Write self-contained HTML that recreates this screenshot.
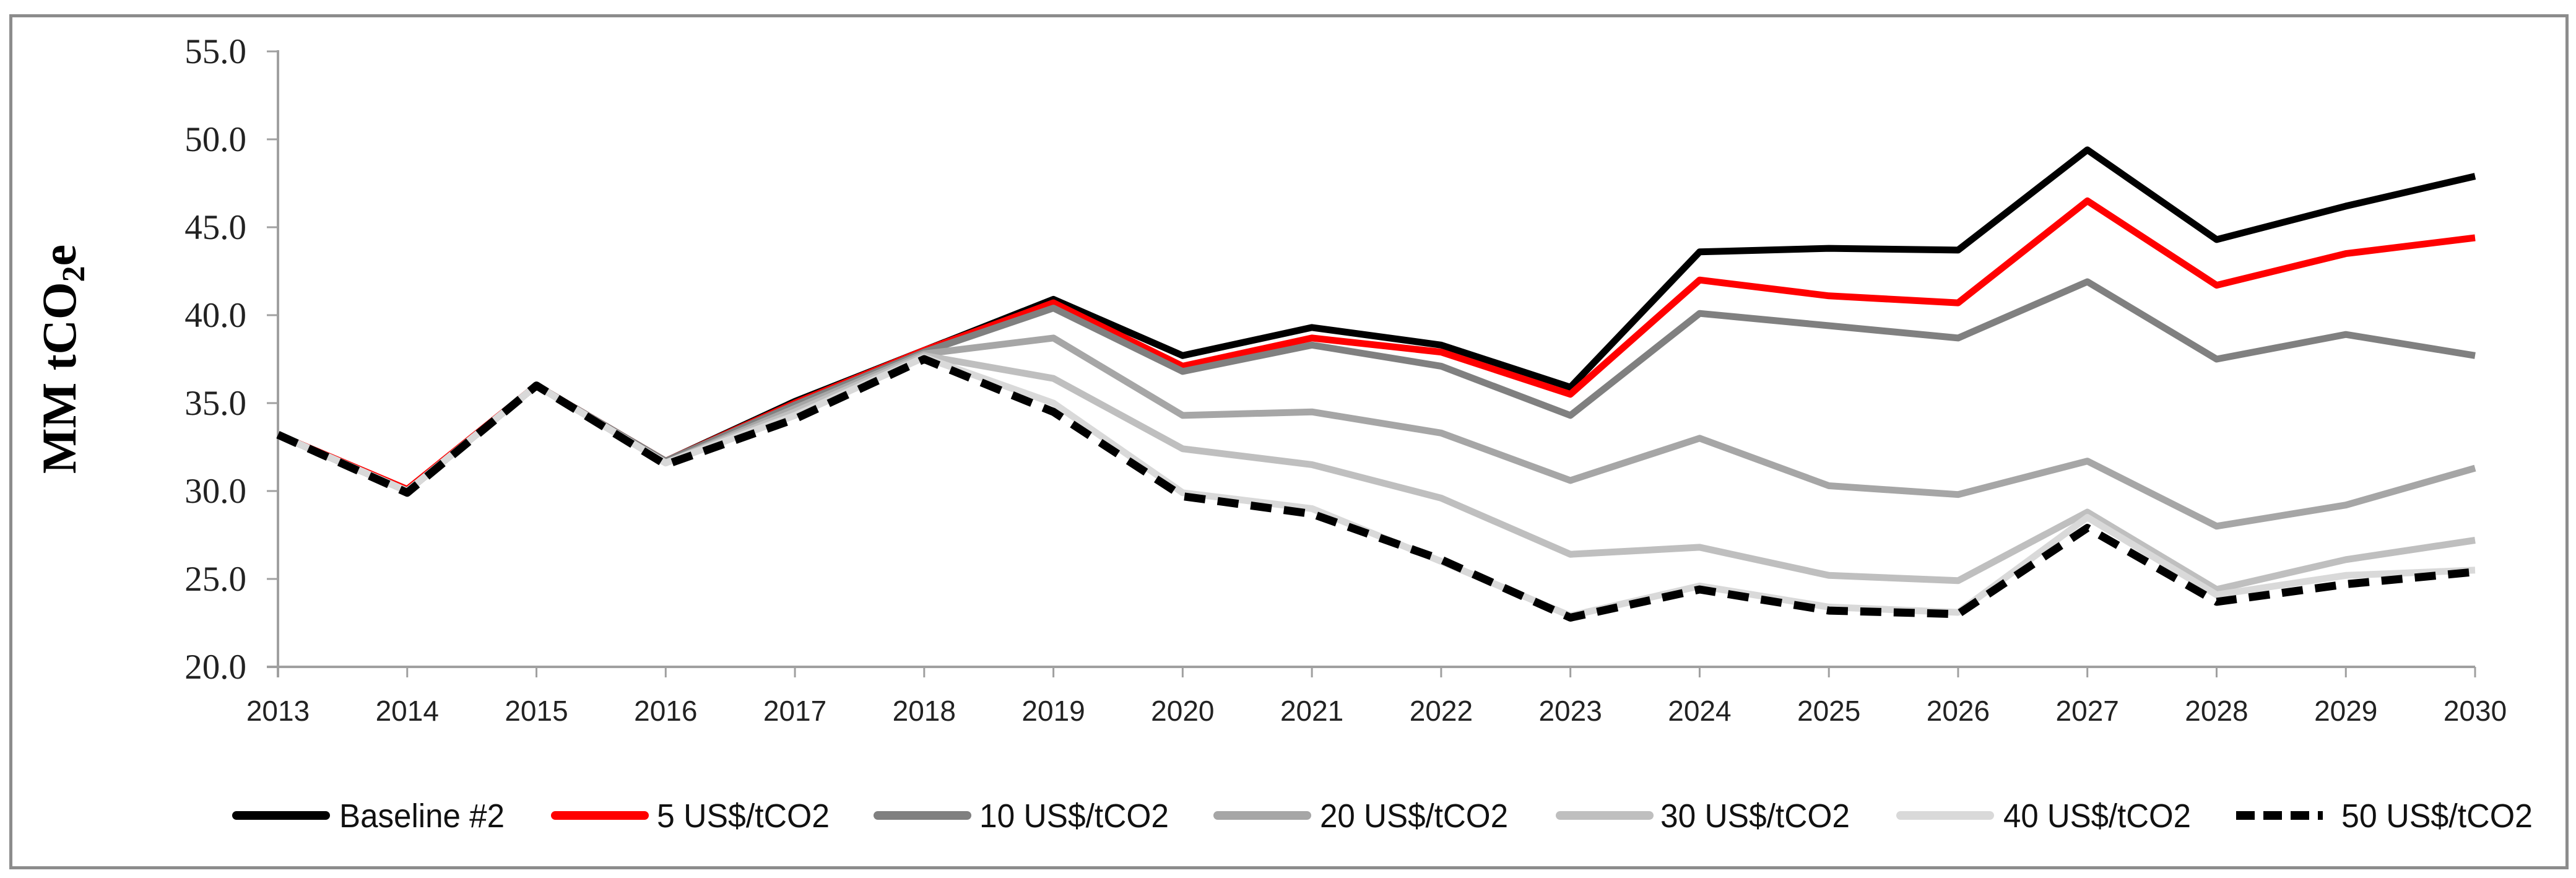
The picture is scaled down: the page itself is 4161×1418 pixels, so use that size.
<!DOCTYPE html>
<html><head><meta charset="utf-8"><style>
html,body{margin:0;padding:0;background:#fff;}
svg{display:block;}
</style></head><body>
<svg id="chart" width="4161" height="1418" viewBox="0 0 4161 1418" xmlns="http://www.w3.org/2000/svg">
<rect x="17.5" y="25.5" width="4129" height="1376" fill="#fff" stroke="#8c8c8c" stroke-width="5"/>
<g id="axes"></g>
<g id="series"></g>
<text transform="translate(122,580) rotate(-90)" text-anchor="middle" font-family="Liberation Serif, serif" font-weight="bold" font-size="78" fill="#000">MM tCO<tspan font-size="52" dy="14">2</tspan><tspan dy="-14">e</tspan></text>
<g id="legend"></g>
</svg>
<script>
const years = [2013,2014,2015,2016,2017,2018,2019,2020,2021,2022,2023,2024,2025,2026,2027,2028,2029,2030];
const yTicks = [20,25,30,35,40,45,50,55];
const seriesNames = ["Baseline #2","5 US$/tCO2","10 US$/tCO2","20 US$/tCO2","30 US$/tCO2","40 US$/tCO2","50 US$/tCO2"];
const baseline = [33.2,30.0,36.0,31.7,35.1,38.0,40.9,37.7,39.3,38.3,35.9,43.6,43.8,43.7,49.4,44.3,46.2,47.9];
const usd5 = [33.2,30.1,36.0,31.7,35.0,38.0,40.7,37.1,38.7,37.9,35.5,42.0,41.1,40.7,46.5,41.7,43.5,44.4];
const usd10 = [33.2,30.0,36.0,31.7,34.9,37.9,40.4,36.8,38.3,37.1,34.3,40.1,39.4,38.7,41.9,37.5,38.9,37.7];
const usd20 = [33.2,30.0,36.0,31.6,34.7,37.8,38.7,34.3,34.5,33.3,30.6,33.0,30.3,29.8,31.7,28.0,29.2,31.3];
const usd30 = [33.2,30.0,36.0,31.6,34.5,37.7,36.4,32.4,31.5,29.6,26.4,26.8,25.2,24.9,28.8,24.4,26.1,27.2];
const usd40 = [33.2,30.0,36.0,31.6,34.3,37.6,35.0,29.9,29.0,26.0,22.9,24.6,23.4,23.1,28.5,24.1,25.2,25.5];
const usd50 = [33.2,29.9,36.0,31.5,34.1,37.5,34.5,29.7,28.7,26.1,22.8,24.4,23.2,23.0,27.9,23.7,24.7,25.4];
const seriesValues = [baseline,usd5,usd10,usd20,usd30,usd40,usd50];
const seriesColors = ["#000000","#ff0000","#808080","#a6a6a6","#bfbfbf","#d9d9d9","#000000"];

const NS="http://www.w3.org/2000/svg";
const X0=449, X1=3998, Y0=1077, Y1=83, VMIN=20, VMAX=55;
function xs(i){return X0+(X1-X0)*i/(years.length-1);}
function ys(v){return Y0-(v-VMIN)/(VMAX-VMIN)*(Y0-Y1);}
function mk(tag,attrs,parent){const e=document.createElementNS(NS,tag);for(const k in attrs)e.setAttribute(k,attrs[k]);parent.appendChild(e);return e;}

const axes=document.getElementById('axes');
yTicks.forEach(t=>{
  const tk=mk('line',{x1:X0-18,x2:X0,y1:ys(t),y2:ys(t),stroke:'#a0a0a0','stroke-width':3},axes);
  
  
  const lb=mk('text',{x:398,y:ys(t)+19,'text-anchor':'end','font-family':'Liberation Serif, serif','font-size':57,fill:'#222'},axes);
  lb.textContent=t.toFixed(1);
  
  
});
years.forEach((yr,i)=>{
  const tk=mk('line',{x1:xs(i),x2:xs(i),y1:Y0,y2:Y0+17,stroke:'#a0a0a0','stroke-width':3},axes);
  
  
  const lb=mk('text',{x:xs(i),y:1164,'text-anchor':'middle','font-family':'Liberation Sans, sans-serif','font-size':46,fill:'#222'},axes);
  lb.textContent=yr;
  
  
});
const ya=mk('line',{x1:X0,x2:X0,y1:Y1-2,y2:Y0+17,stroke:'#a0a0a0','stroke-width':4},axes);


const xa=mk('line',{x1:X0-18,x2:X1,y1:Y0,y2:Y0,stroke:'#a0a0a0','stroke-width':4},axes);



const sg=document.getElementById('series');
seriesValues.forEach((vals,s)=>{
  const pts=vals.map((v,i)=>xs(i).toFixed(1)+','+ys(v).toFixed(1)).join(' ');
  const attrs={points:pts,fill:'none',stroke:seriesColors[s],'stroke-width':s===6?13:11,'stroke-linejoin':'round'};
  if(s===6){attrs['stroke-dasharray']='34 20';}
  const pl=mk('polyline',attrs,sg);
  
  
});

const lg=document.getElementById('legend');
const legLineX=[375,890,1411,1960,2513,3063,3612];
const legTextX=[548,1061,1582,2132,2682,3236,3782];
const legTextW=[267,279,306,304,306,303,309];
seriesNames.forEach((n,s)=>{
  const la={x1:legLineX[s]+7,x2:legLineX[s]+151,y1:1317,y2:1317,stroke:seriesColors[s],'stroke-width':14,'stroke-linecap':'round'};
  if(s===6){la['stroke-dasharray']='30 14';la['stroke-linecap']='butt';la.x1=legLineX[s];la.x2=legLineX[s]+140;}
  const l=mk('line',la,lg);
  
  
  const t=mk('text',{x:legTextX[s],y:1336,'font-family':'Liberation Sans, sans-serif','font-size':54,fill:'#111',textLength:legTextW[s],lengthAdjust:'spacingAndGlyphs'},lg);
  t.textContent=n;
  
  
});
</script>
</body></html>
